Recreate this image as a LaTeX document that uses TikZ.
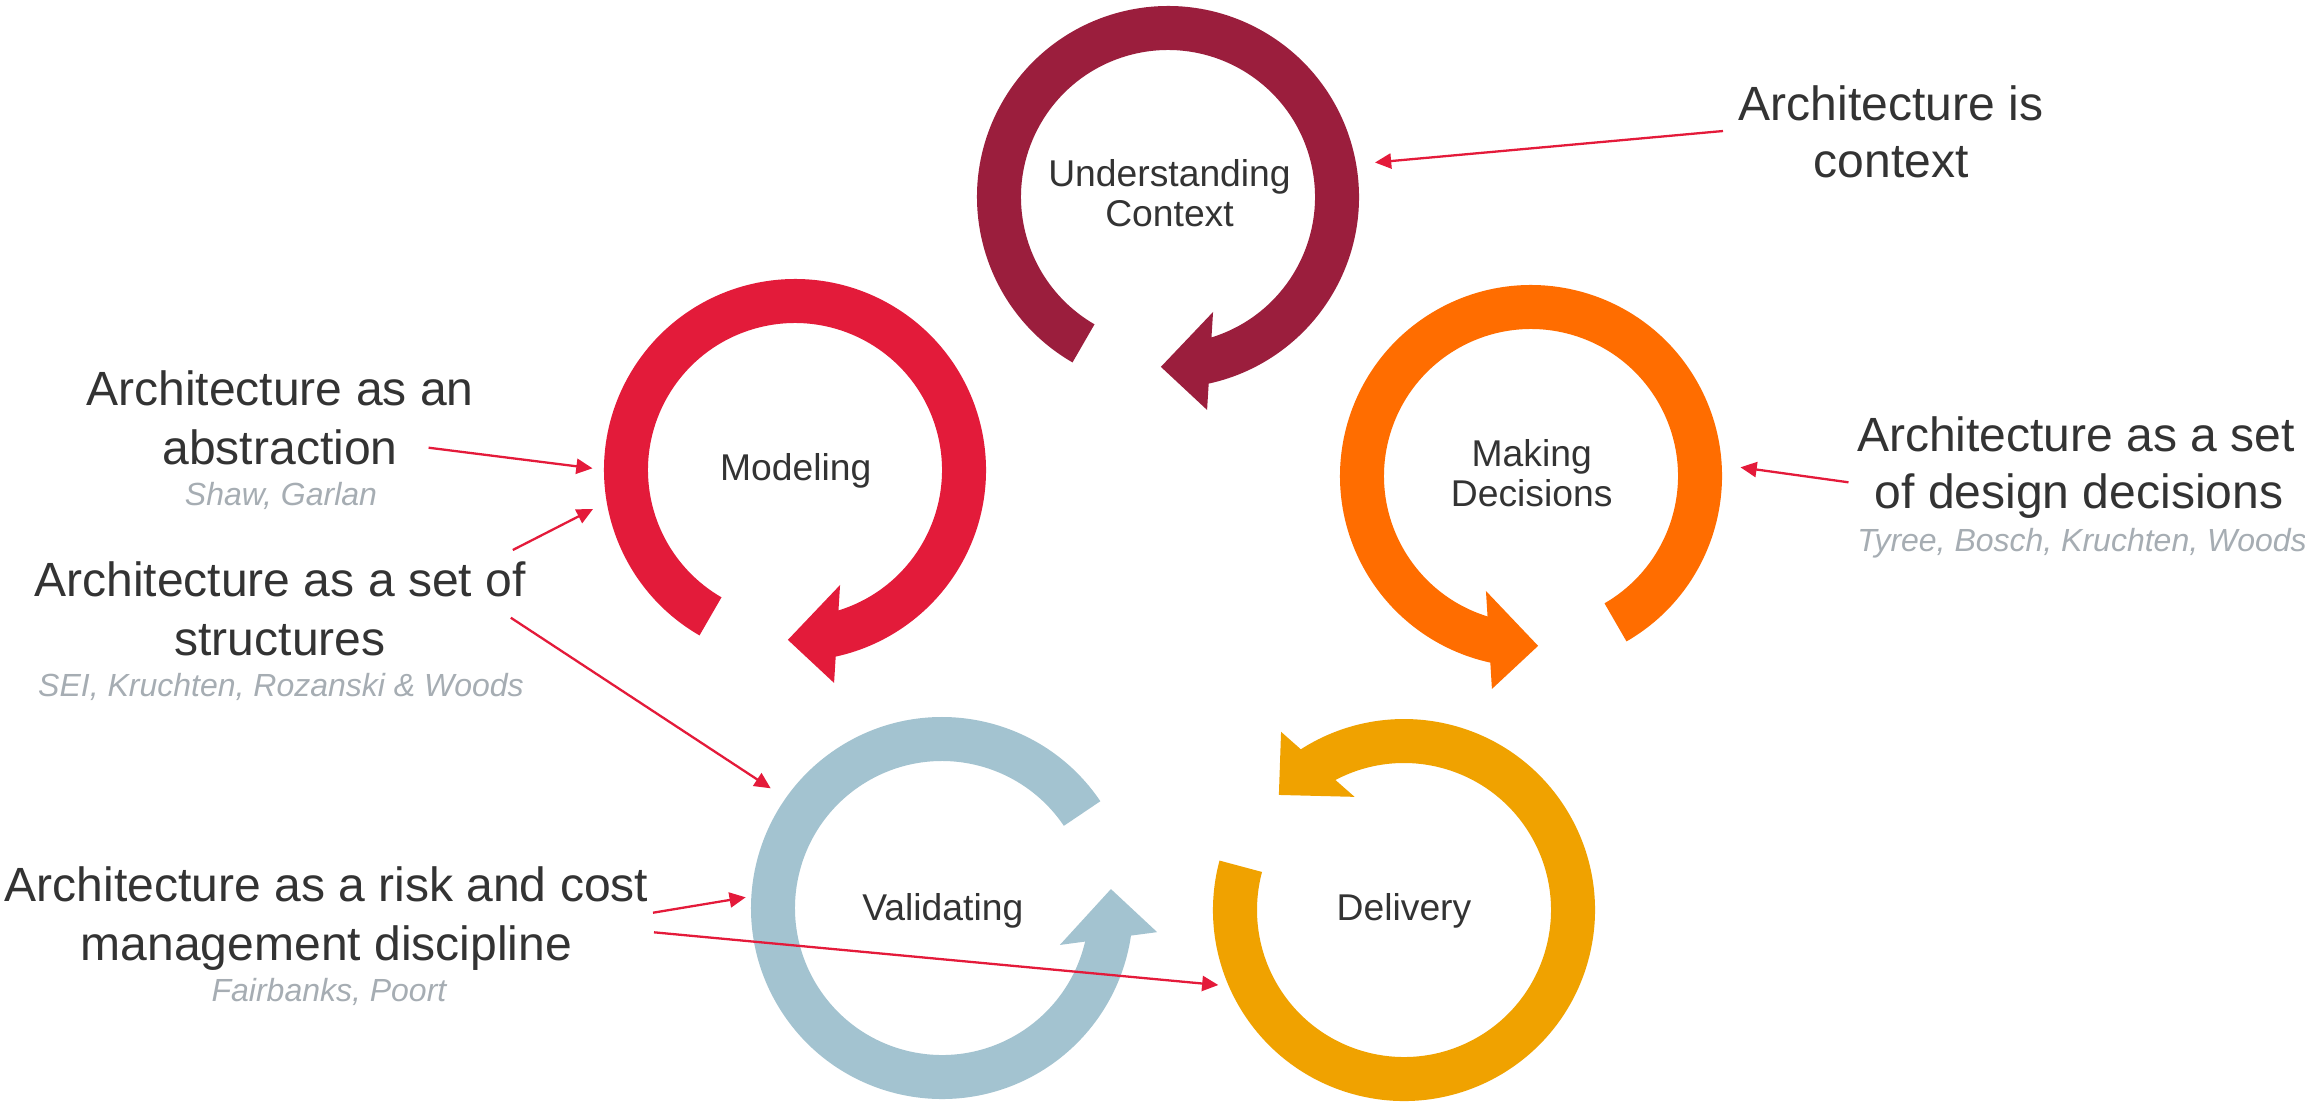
\documentclass[tikz,border=0pt]{standalone}
\usepackage{fontspec}
\setmainfont{Liberation Sans}
\usetikzlibrary{arrows.meta}

\definecolor{ctxcol}{HTML}{9B1E3D}
\definecolor{modcol}{HTML}{E31B3A}
\definecolor{deccol}{HTML}{FF6D00}
\definecolor{valcol}{HTML}{A3C3D0}
\definecolor{delcol}{HTML}{F0A200}
\definecolor{linkcol}{HTML}{E41A3A}
\definecolor{txtcol}{HTML}{333333}
\definecolor{citecol}{HTML}{A6ADB3}

\tikzset{
  % thick ring with a gap and an arrowhead, centred on the origin
  cyclearrow/.pic={
    \fill[pic actions] (240:191) arc[start angle=240, end angle=-77.7, radius=191]
      -- (-79.6:216.5) -- (-92.4:170) -- (-68.6:123.5) -- (-72.8:147)
      arc[start angle=-72.8, end angle=240, radius=147] -- cycle;
  },
  stagelabel/.style={font=\fontsize{10.6pt}{11.7pt}\selectfont, text=txtcol, inner sep=0pt, anchor=base},
  claim/.style={font=\fontsize{13.66pt}{16.5pt}\selectfont, text=txtcol, inner sep=0pt, anchor=base},
  citeline/.style={font=\fontsize{9.1pt}{11pt}\selectfont\itshape, text=citecol, inner sep=0pt, anchor=base},
  link/.style={draw=linkcol, line width=0.65pt, -{Triangle[length=4.6pt, width=4.3pt]}},
}

\begin{document}
\begin{tikzpicture}[x=0.01cm, y=0.01cm]
  \fill[white] (0,0) rectangle (2305,-1102);
  \useasboundingbox (0,0) rectangle (2305,-1102);

  % the five cycles
  \pic[fill=ctxcol] at (1168,-197) {cyclearrow};
  \pic[fill=modcol] at (795,-470) {cyclearrow};
  \pic[fill=deccol, xscale=-1] at (1531,-476) {cyclearrow};
  \pic[fill=valcol, rotate=94, xscale=-1] at (942,-908) {cyclearrow};
  \pic[fill=delcol, rotate=-135, xscale=-1] at (1404,-910) {cyclearrow};

  % stage names
  \node[stagelabel] (ucA) at (1169.5,-186) {Understanding};
  \node[stagelabel] (ucB) at (1169.5,-226.7) {Context};
  \node[stagelabel] (mod) at (795.8,-480) {Modeling};
  \node[stagelabel] (decA) at (1531.7,-466) {Making};
  \node[stagelabel] (decB) at (1531.7,-506.7) {Decisions};
  \node[stagelabel] (val) at (942.8,-920.7) {Validating};
  \node[stagelabel] (del) at (1404,-920) {Delivery};

  % views of architecture
  \node[claim] (ctxA) at (1891,-120) {Architecture is};
  \node[claim] (ctxB) at (1891,-177) {context};

  \node[claim] (absA) at (280,-405.7) {Architecture as an};
  \node[claim] (absB) at (280,-464) {abstraction};
  \node[citeline] (absC) at (281,-505) {Shaw, Garlan};

  \node[claim] (strA) at (280,-596.7) {Architecture as a set of};
  \node[claim] (strB) at (280,-655) {structures};
  \node[citeline] (strC) at (281,-696.7) {SEI, Kruchten, Rozanski \& Woods};

  \node[claim] (riskA) at (326.5,-901.7) {Architecture as a risk and cost};
  \node[claim] (riskB) at (326.5,-960) {management discipline};
  \node[citeline] (riskC) at (329,-1001.7) {Fairbanks, Poort};

  \node[claim] (ddA) at (2076,-451.7) {Architecture as a set};
  \node[claim] (ddB) at (2079,-508.3) {of design decisions};
  \node[citeline] (ddC) at (2082,-551.7) {Tyree, Bosch, Kruchten, Woods};

  % connector end points
  \coordinate (ctxFrom) at (1723,-131);
  \coordinate (ctxTo) at (1375,-162.5);
  \coordinate (absFrom) at (428.6,-447.7);
  \coordinate (absTo) at (592.5,-468.3);
  \coordinate (strFromA) at (512.8,-550);
  \coordinate (strToA) at (593,-509);
  \coordinate (strFromB) at (510.8,-617.7);
  \coordinate (strToB) at (770.7,-788.3);
  \coordinate (riskFromA) at (653,-912.7);
  \coordinate (riskToA) at (745.7,-897.3);
  \coordinate (riskFromB) at (654,-932.3);
  \coordinate (riskToB) at (1218.3,-985);
  \coordinate (ddFrom) at (1848.5,-482.3);
  \coordinate (ddTo) at (1740.5,-467.3);

  \draw[link] (ctxFrom) -- (ctxTo);
  \draw[link] (absFrom) -- (absTo);
  \draw[link] (strFromA) -- (strToA);
  \draw[link] (strFromB) -- (strToB);
  \draw[link] (riskFromA) -- (riskToA);
  \draw[link] (riskFromB) -- (riskToB);
  \draw[link] (ddFrom) -- (ddTo);
\end{tikzpicture}
\end{document}
